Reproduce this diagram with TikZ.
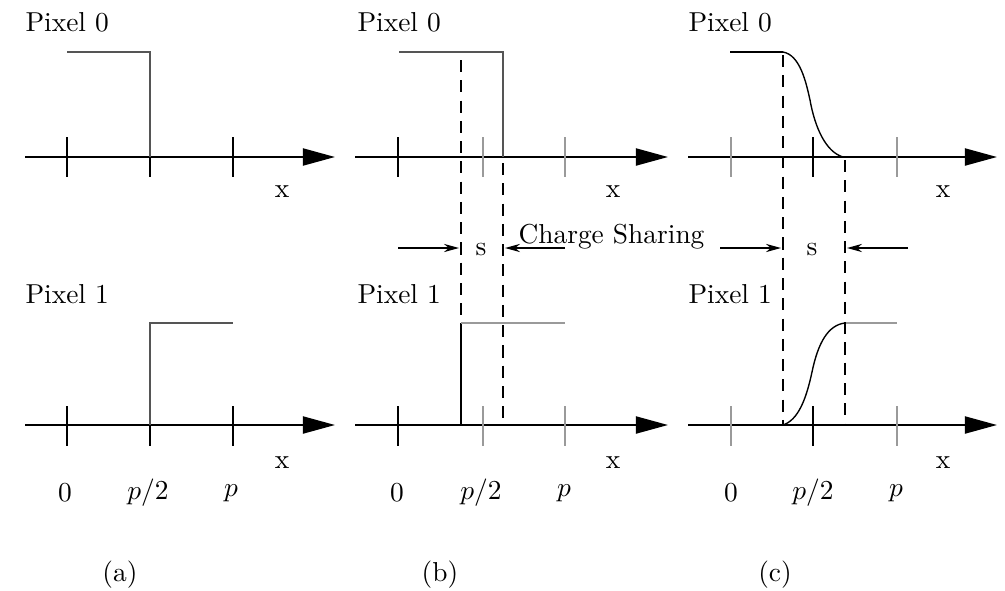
\documentclass[tikz,border=0pt]{standalone}
\usetikzlibrary{arrows.meta}
\definecolor{tkgray}{HTML}{9A9A9A}
\definecolor{stepgray}{HTML}{555555}

\begin{document}
\begin{tikzpicture}[
  x=0.365pt, y=-0.365pt,
  axis/.style={-{Triangle[length=11.7pt, width=6.2pt]}, line width=0.75pt},
  tickmark/.style={line width=0.6pt, draw=#1},
  tickmark/.default=black,
  stepline/.style={line width=0.6pt, draw=stepgray},
  guide/.style={line width=0.6pt, dash pattern=on 4.4pt off 3pt},
  dimarr/.style={-{Stealth[length=5.5pt, width=3pt]}, line width=0.5pt},
  lbl/.style={inner sep=0pt},
]

% Canvas
\useasboundingbox (0,0) rectangle (1005,590);

% =============================================
% (a) sharp boundary
% =============================================
\node[lbl, anchor=base west] (a0) at (25,31) {Pixel 0};
\draw[axis] (25,157) -- (335,157);
\draw[tickmark] (67,137) -- (67,177);
\draw[tickmark] (150,137) -- (150,177);
\draw[tickmark] (233,137) -- (233,177);
\draw[stepline] (67,52) -- (150,52) -- (150,157);
\node[lbl] (ax0) at (282,192) {x};

\node[lbl, anchor=base west] (a1) at (25,303) {Pixel 1};
\draw[axis] (25,425) -- (335,425);
\draw[tickmark] (67,406) -- (67,446);
\draw[tickmark] (150,406) -- (150,446);
\draw[tickmark] (233,406) -- (233,446);
\draw[stepline] (150,425) -- (150,323) -- (233,323);
\node[lbl] (ax1) at (282,463) {x};

\node[lbl] (a0l) at (65,493) {0};
\node[lbl] (a1l) at (148,493) {$p/2$};
\node[lbl] (a2l) at (231,493) {$p$};
\node[lbl] (acap) at (120,575) {(a)};

% =============================================
% (b) shifted boundary
% =============================================
\node[lbl, anchor=base west] (b0) at (357,31) {Pixel 0};
\draw[axis] (355,157) -- (668,157);
\draw[tickmark] (398,137) -- (398,177);
\draw[tickmark=tkgray] (483,137) -- (483,177);
\draw[tickmark=tkgray] (565,137) -- (565,177);
\draw[stepline] (399,52) -- (503,52) -- (503,157);
\node[lbl] (bx0) at (613,192) {x};

\node[lbl, anchor=base west] (b1) at (357,303) {Pixel 1};
\draw[axis] (355,425) -- (668,425);
\draw[tickmark] (398,406) -- (398,446);
\draw[tickmark=tkgray] (483,406) -- (483,446);
\draw[tickmark=tkgray] (565,406) -- (565,446);
\draw[line width=0.6pt] (461,425) -- (461,323);
\draw[stepline, draw=tkgray] (461,323) -- (565,323);
\node[lbl] (bx1) at (613,463) {x};

% charge sharing region
\draw[guide] (461,60) -- (461,420);
\draw[guide] (503,163) -- (503,420);
\draw[dimarr] (398,248) -- (459,248);
\draw[dimarr] (565,248) -- (505,248);
\node[lbl] (bs) at (481,250) {s};
\node[lbl, anchor=base west] (share) at (518,243) {Charge Sharing};

\node[lbl] (b0l) at (397,493) {0};
\node[lbl] (b1l) at (481,493) {$p/2$};
\node[lbl] (b2l) at (564,493) {$p$};
\node[lbl] (bcap) at (440,575) {(b)};

% =============================================
% (c) smooth boundary
% =============================================
\node[lbl, anchor=base west] (c0) at (688,31) {Pixel 0};
\draw[axis] (688,157) -- (997,157);
\draw[tickmark=tkgray] (731,137) -- (731,177);
\draw[tickmark] (813,137) -- (813,177);
\draw[tickmark=tkgray] (897,137) -- (897,177);
\draw[line width=0.6pt] (730,52) -- (783,52);
\draw[line width=0.5pt] (783,52) .. controls (800,55) and (806,82) .. (810,100)
  .. controls (815,128) and (826,152) .. (843,157);
\node[lbl] (cx0) at (943,192) {x};

\node[lbl, anchor=base west] (c1) at (688,303) {Pixel 1};
\draw[axis] (688,425) -- (997,425);
\draw[tickmark=tkgray] (731,406) -- (731,446);
\draw[tickmark] (813,406) -- (813,446);
\draw[tickmark=tkgray] (897,406) -- (897,446);
\draw[line width=0.5pt] (783,425) .. controls (798,420) and (806,400) .. (812,372)
  .. controls (818,343) and (828,325) .. (845,323);
\draw[stepline, draw=tkgray] (845,323) -- (897,323);
\node[lbl] (cx1) at (943,463) {x};

% charge sharing region
\draw[guide] (783,55) -- (783,425);
\draw[guide] (845,160) -- (845,425);
\draw[dimarr] (720,248) -- (781,248);
\draw[dimarr] (908,248) -- (847,248);
\node[lbl] (cs) at (812,250) {s};

\node[lbl] (c0l) at (731,493) {0};
\node[lbl] (c1l) at (813,493) {$p/2$};
\node[lbl] (c2l) at (896,493) {$p$};
\node[lbl] (ccap) at (775,575) {(c)};

\end{tikzpicture}
\end{document}
